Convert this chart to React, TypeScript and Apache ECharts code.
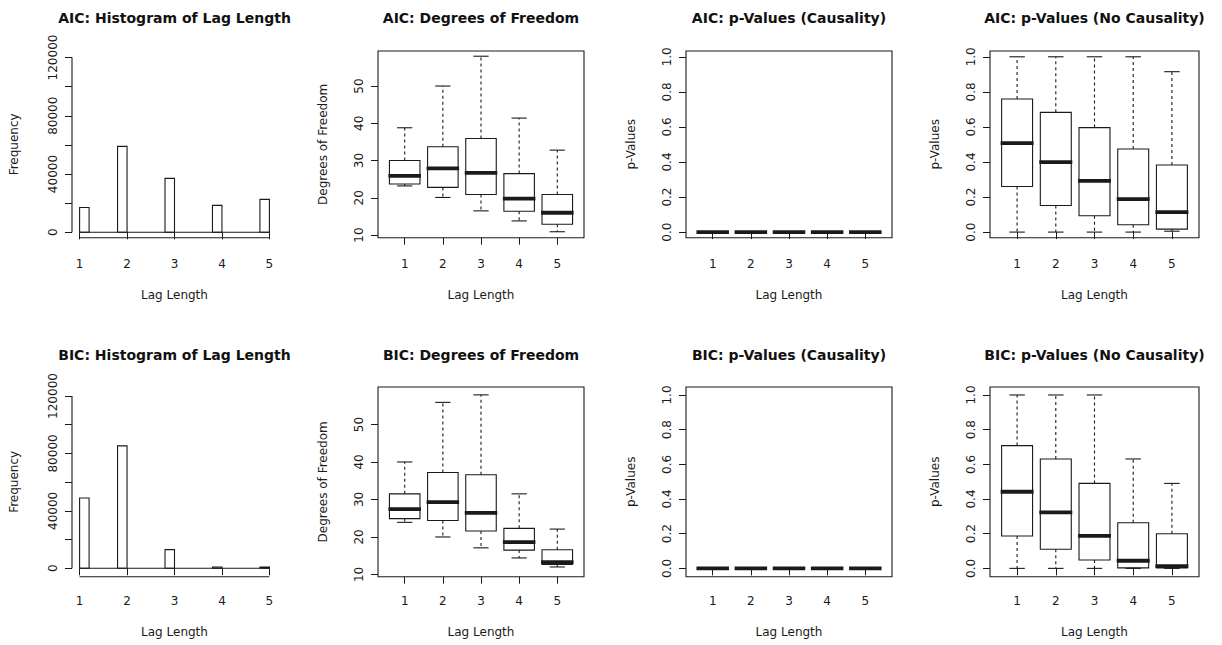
import React, { useEffect, useRef } from "react";
import * as echarts from "echarts";

// ---------- data ----------
const lagLengths = [1, 2, 3, 4, 5];
const histBinWidth = 0.2;

const aicLagCounts = [17000, 59000, 37000, 18500, 22600];
const bicLagCounts = [49000, 85300, 13000, 900, 800];

// boxplot stats per lag: [lower whisker, Q1, median, Q3, upper whisker]
const aicDfStats = [
  [23.2, 23.7, 25.9, 30.0, 38.8],
  [20.1, 22.8, 27.9, 33.7, 50.0],
  [16.5, 20.9, 26.7, 35.9, 58.0],
  [13.8, 16.4, 19.8, 26.5, 41.4],
  [10.9, 12.9, 16.0, 20.9, 32.8],
];
const aicPCausalityStats = [
  [0, 0, 0, 0, 0],
  [0, 0, 0, 0, 0],
  [0, 0, 0, 0, 0],
  [0, 0, 0, 0, 0],
  [0, 0, 0, 0, 0],
];
const aicPNoCausalityStats = [
  [0, 0.26, 0.507, 0.759, 1.0],
  [0, 0.152, 0.399, 0.683, 1.0],
  [0, 0.093, 0.292, 0.596, 1.0],
  [0, 0.042, 0.188, 0.474, 1.0],
  [0.005, 0.017, 0.114, 0.383, 0.915],
];
const bicDfStats = [
  [23.9, 24.9, 27.4, 31.5, 40.0],
  [20.0, 24.4, 29.3, 37.2, 55.9],
  [17.1, 21.6, 26.4, 36.6, 57.9],
  [14.4, 16.5, 18.6, 22.3, 31.5],
  [12.0, 12.7, 13.3, 16.6, 22.1],
];
const bicPCausalityStats = [
  [0, 0, 0, 0, 0],
  [0, 0, 0, 0, 0],
  [0, 0, 0, 0, 0],
  [0, 0, 0, 0, 0],
  [0, 0, 0, 0, 0],
];
const bicPNoCausalityStats = [
  [0, 0.187, 0.442, 0.708, 1.0],
  [0, 0.11, 0.323, 0.631, 1.0],
  [0, 0.048, 0.188, 0.49, 1.0],
  [0, 0.003, 0.044, 0.263, 0.631],
  [0, 0.002, 0.013, 0.2, 0.49],
];

// tick values / labels
const freqTicks = [0, 20000, 40000, 60000, 80000, 100000, 120000];
const freqLabels = [0, 40000, 80000, 120000];
const dfTicks = [10, 20, 30, 40, 50];
const pTicks = [0, 0.2, 0.4, 0.6, 0.8, 1.0];

const titles = [
  "AIC: Histogram of Lag Length",
  "AIC: Degrees of Freedom",
  "AIC: p-Values (Causality)",
  "AIC: p-Values (No Causality)",
  "BIC: Histogram of Lag Length",
  "BIC: Degrees of Freedom",
  "BIC: p-Values (Causality)",
  "BIC: p-Values (No Causality)",
];
const xAxisName = "Lag Length";

// ---------- layout / style ----------
const FONT = "DejaVu Sans";
const INK = "#1a1a1a";
const colLeft = [72, 378, 686, 990];
const colWidth = [205, 206, 206, 209];
const rowTop = [51, 387];
const rowHeight = [186.7, 189.7];
const titleY = [18, 355];
const BOX_WEX = 0.8;
const STAPLE_WEX = 0.5;

type Panel = {
  kind: "hist" | "box";
  row: number;
  col: number;
  yName: string;
  yRange: [number, number];
  yTicks: number[];
  yLabels: number[];
  yFmt: (v: number) => string;
  counts?: number[];
  stats?: number[][];
};

const fmtInt = (v: number) => String(Math.round(v));
const fmtP = (v: number) => v.toFixed(1);

const panels: Panel[] = [
  { kind: "hist", row: 0, col: 0, yName: "Frequency", yRange: [-3700, 124460], yTicks: freqTicks, yLabels: freqLabels, yFmt: fmtInt, counts: aicLagCounts },
  { kind: "box", row: 0, col: 1, yName: "Degrees of Freedom", yRange: [9.3, 59.4], yTicks: dfTicks, yLabels: dfTicks, yFmt: fmtInt, stats: aicDfStats },
  { kind: "box", row: 0, col: 2, yName: "p-Values", yRange: [-0.032, 1.033], yTicks: pTicks, yLabels: pTicks, yFmt: fmtP, stats: aicPCausalityStats },
  { kind: "box", row: 0, col: 3, yName: "p-Values", yRange: [-0.032, 1.033], yTicks: pTicks, yLabels: pTicks, yFmt: fmtP, stats: aicPNoCausalityStats },
  { kind: "hist", row: 1, col: 0, yName: "Frequency", yRange: [-5850, 126270], yTicks: freqTicks, yLabels: freqLabels, yFmt: fmtInt, counts: bicLagCounts },
  { kind: "box", row: 1, col: 1, yName: "Degrees of Freedom", yRange: [9.4, 60.0], yTicks: dfTicks, yLabels: dfTicks, yFmt: fmtInt, stats: bicDfStats },
  { kind: "box", row: 1, col: 2, yName: "p-Values", yRange: [-0.048, 1.046], yTicks: pTicks, yLabels: pTicks, yFmt: fmtP, stats: bicPCausalityStats },
  { kind: "box", row: 1, col: 3, yName: "p-Values", yRange: [-0.048, 1.046], yTicks: pTicks, yLabels: pTicks, yFmt: fmtP, stats: bicPNoCausalityStats },
];

const lineStyle = { stroke: INK, lineWidth: 1.1, fill: "none" };

function histRender(params: any, api: any) {
  const lag = api.value(0);
  const count = api.value(1);
  const left = lag === lagLengths[0] ? lag : lag - histBinWidth;
  const right = left + histBinWidth;
  const p0 = api.coord([left, count]);
  const p1 = api.coord([right, 0]);
  return {
    type: "rect",
    shape: { x: p0[0], y: p0[1], width: p1[0] - p0[0], height: p1[1] - p0[1] },
    style: { fill: "#fff", stroke: INK, lineWidth: 1.1 },
  };
}

function boxRender(params: any, api: any) {
  const x = api.value(0);
  const lo = api.value(1), q1 = api.value(2), med = api.value(3), q3 = api.value(4), hi = api.value(5);
  const cx = api.coord([x, med])[0];
  const y = (v: number) => api.coord([x, v])[1];
  const halfW = api.size([BOX_WEX, 0])[0] / 2;
  const capHalf = halfW * STAPLE_WEX;
  const yLo = y(lo), yQ1 = y(q1), yMed = y(med), yQ3 = y(q3), yHi = y(hi);
  return {
    type: "group",
    children: [
      { type: "line", shape: { x1: cx, y1: yQ3, x2: cx, y2: yHi }, style: { ...lineStyle, lineDash: [3, 3] } },
      { type: "line", shape: { x1: cx, y1: yQ1, x2: cx, y2: yLo }, style: { ...lineStyle, lineDash: [3, 3] } },
      { type: "line", shape: { x1: cx - capHalf, y1: yHi, x2: cx + capHalf, y2: yHi }, style: lineStyle },
      { type: "line", shape: { x1: cx - capHalf, y1: yLo, x2: cx + capHalf, y2: yLo }, style: lineStyle },
      { type: "rect", shape: { x: cx - halfW, y: yQ3, width: halfW * 2, height: yQ1 - yQ3 }, style: lineStyle },
      { type: "line", shape: { x1: cx - halfW - 1, y1: yMed, x2: cx + halfW + 1, y2: yMed }, style: { stroke: INK, lineWidth: 3.8 } },
    ],
  };
}

function buildOption() {
  const grid: any[] = [];
  const xAxis: any[] = [];
  const yAxis: any[] = [];
  const series: any[] = [];
  const graphic: any[] = [];
  const textStyle = { fontFamily: FONT, color: INK };

  panels.forEach((p, i) => {
    const left = colLeft[p.col];
    const width = colWidth[p.col];
    grid.push({
      left,
      top: rowTop[p.row],
      width,
      height: rowHeight[p.row],
      show: p.kind === "box",
      borderColor: INK,
      borderWidth: 1.1,
      backgroundColor: "transparent",
      containLabel: false,
      outerBoundsMode: "none",
    });
    const xRange = p.kind === "hist" ? [0.84, 5.16] : [0.3, 5.7];
    const isBottomRow = p.row === 1;
    xAxis.push({
      type: "value",
      gridIndex: i,
      min: xRange[0],
      max: xRange[1],
      axisLine: { show: false },
      splitLine: { show: false },
      axisTick: { show: true, length: 7, customValues: lagLengths, lineStyle: { color: INK, width: 1 } },
      axisLabel: { show: true, customValues: lagLengths, margin: isBottomRow ? 18 : 20, fontSize: 12, ...textStyle },
      name: xAxisName,
      nameLocation: "middle",
      nameGap: isBottomRow ? 49 : 51,
      nameTextStyle: { fontSize: 12, ...textStyle },
    });
    yAxis.push({
      type: "value",
      gridIndex: i,
      min: p.yRange[0],
      max: p.yRange[1],
      axisLine: { show: false },
      splitLine: { show: false },
      axisTick: { show: true, length: 7, customValues: p.yTicks, lineStyle: { color: INK, width: 1 } },
      axisLabel: { show: true, customValues: p.yLabels, rotate: 90, margin: 13, fontSize: 12, formatter: p.yFmt, ...textStyle },
      name: p.yName,
      nameLocation: "middle",
      nameGap: p.kind === "hist" ? 52 : 49,
      nameTextStyle: { fontSize: 12, ...textStyle },
    });

    if (p.kind === "hist") {
      const first = lagLengths[0];
      const last = lagLengths[lagLengths.length - 1];
      const topTick = p.yTicks[p.yTicks.length - 1];
      const baseLine = { type: "line", xAxisIndex: i, yAxisIndex: i, symbol: "none", silent: true, clip: false, animation: false, lineStyle: { color: INK, width: 1.1 } };
      series.push({ ...baseLine, data: [[first, 0], [last, 0]] });
      series.push({ ...baseLine, data: [[first, p.yRange[0]], [last, p.yRange[0]]] });
      series.push({ ...baseLine, data: [[xRange[0], p.yTicks[0]], [xRange[0], topTick]] });
      series.push({
        type: "custom",
        xAxisIndex: i,
        yAxisIndex: i,
        data: lagLengths.map((l, k) => [l, p.counts![k]]),
        encode: { x: 0, y: 1 },
        renderItem: histRender,
        silent: true,
      });
    } else {
      series.push({
        type: "custom",
        xAxisIndex: i,
        yAxisIndex: i,
        data: lagLengths.map((l, k) => [l, ...p.stats![k]]),
        encode: { x: 0, y: [1, 2, 3, 4, 5] },
        renderItem: boxRender,
        silent: true,
      });
    }

    graphic.push({
      type: "text",
      x: left + width / 2,
      y: titleY[p.row],
      style: {
        text: titles[i],
        fontFamily: FONT,
        fontSize: 14,
        fontWeight: "bold",
        fill: "#111",
        align: "center",
        verticalAlign: "middle",
        textAlign: "center",
        textVerticalAlign: "middle",
      },
    });
  });

  return { animation: false, backgroundColor: "#fff", grid, xAxis, yAxis, series, graphic };
}

export default function App() {
  const ref = useRef<HTMLDivElement>(null);
  useEffect(() => {
    if (!ref.current) return;
    const chart = echarts.init(ref.current, undefined, { renderer: "svg" });
    chart.setOption(buildOption() as any);
    return () => chart.dispose();
  }, []);
  return (
    <div
      ref={ref}
      style={{ position: "absolute", left: 0, top: 0, width: 1222, height: 645, background: "#fff" }}
    />
  );
}
